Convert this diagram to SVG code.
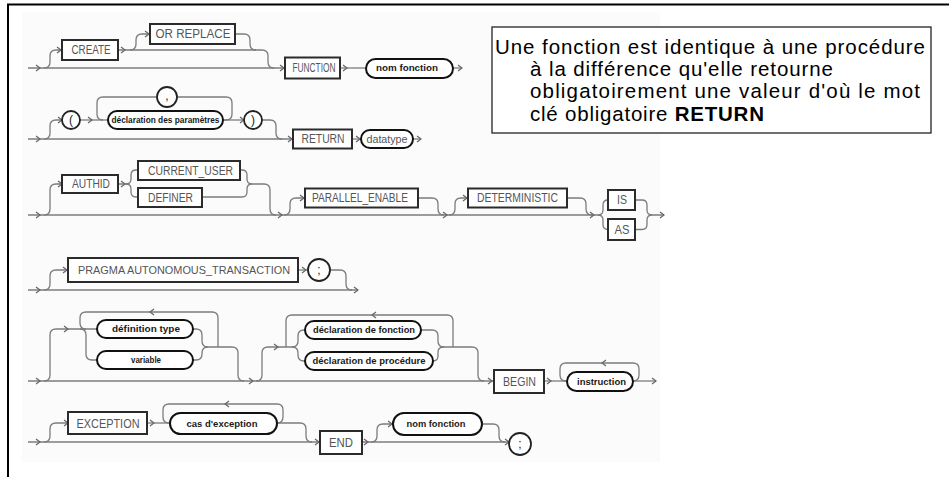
<svg xmlns="http://www.w3.org/2000/svg" xmlns:xlink="http://www.w3.org/1999/xlink" width="949" height="477" viewBox="0 0 949 477">
  <defs>
    <style>
      .ln { fill: none; stroke: #7c7c7c; stroke-width: 1.3; }
      .ch { fill: none; stroke: #666; stroke-width: 1.2; }
      .kw rect { fill: #fff; stroke: #2b2b2b; stroke-width: 2; }
      .kw text { font-family: "Liberation Sans", Arial, sans-serif; font-size: 12px; fill: #555; text-anchor: middle; }
      .nt rect { fill: #fff; stroke: #111; stroke-width: 2; }
      .nt text { font-family: "Liberation Sans", Arial, sans-serif; font-size: 8.5px; font-weight: bold; fill: #1a1a1a; text-anchor: middle; }
      .nt text.lt { font-weight: normal; font-size: 11px; fill: #555; }
      .sym circle { fill: #fff; stroke: #222; stroke-width: 1.8; }
      .sym text { font-family: "Liberation Sans", Arial, sans-serif; font-size: 12px; fill: #222; text-anchor: middle; }
      .note text { font-family: "Liberation Sans", Arial, sans-serif; font-size: 20.5px; fill: #000; }
    </style>
    <path id="chr" d="M-4,-3 L0,0 L-4,3"/>
    <path id="chl" d="M4,-3 L0,0 L4,3"/>
  </defs>

  <rect width="949" height="477" fill="#fff"/>
  <rect x="22" y="12" width="638" height="450" fill="#fbfbfb"/>
  <!-- page frame -->
  <path d="M8,477 V4.5 H949" fill="none" stroke="#000" stroke-width="2"/>

  <g id="connectors">
    <!-- CREATE [OR REPLACE] FUNCTION nom -->
    <path class="ln" d="M28,68 H285"/>
    <path class="ln" d="M44,68 Q50,68 50,62 V56 Q50,50 56,50 H62"/>
    <path class="ln" d="M118,50 H262 Q268,50 268,56 V62 Q268,68 274,68"/>
    <path class="ln" d="M130,50 Q136,50 136,44 V40 Q136,34 142,34 H150"/>
    <path class="ln" d="M235,34 H244 Q250,34 250,40 V44 Q250,50 256,50"/>
    <path class="ln" d="M340,68 H366"/>
    <path class="ln" d="M453,68 H462"/>
    <!-- parameters, RETURN -->
    <path class="ln" d="M28,139 H293"/>
    <path class="ln" d="M44,139 Q50,139 50,133 V126 Q50,120 56,120 H62"/>
    <path class="ln" d="M80,120 H108"/>
    <path class="ln" d="M223,120 H226 Q232,120 232,114 V103 Q232,97 226,97 H103 Q97,97 97,103 V114 Q97,120 103,120"/>
    <path class="ln" d="M223,120 H244"/>
    <path class="ln" d="M262,120 H270 Q276,120 276,126 V133 Q276,139 282,139"/>
    <path class="ln" d="M352,139 H361"/>
    <path class="ln" d="M413,139 H421"/>
    <!-- AUTHID / PARALLEL_ENABLE / DETERMINISTIC / IS|AS -->
    <path class="ln" d="M28,215 H598"/>
    <path class="ln" d="M44,215 Q50,215 50,209 V190 Q50,184 56,184 H62"/>
    <path class="ln" d="M118,184 H126 Q131,184 131,179 V175 Q131,170 136,170 H138"/>
    <path class="ln" d="M126,184 Q131,184 131,189 V192 Q131,197 136,197 H138"/>
    <path class="ln" d="M240,170 H242 Q247,170 247,175 V179 Q247,184 252,184 H264 Q270,184 270,190 V209 Q270,215 276,215"/>
    <path class="ln" d="M202,197 H242 Q247,197 247,192 V189 Q247,184 252,184"/>
    <path class="ln" d="M284,215 Q290,215 290,209 V204 Q290,198 296,198 H305"/>
    <path class="ln" d="M418,198 H432 Q438,198 438,204 V209 Q438,215 444,215"/>
    <path class="ln" d="M449,215 Q455,215 455,209 V204 Q455,198 461,198 H468"/>
    <path class="ln" d="M567,198 H580 Q586,198 586,204 V209 Q586,215 592,215"/>
    <path class="ln" d="M598,215 Q603,215 603,210 V205 Q603,200 608,200"/>
    <path class="ln" d="M598,215 Q603,215 603,220 V224.5 Q603,229.5 608,229.5"/>
    <path class="ln" d="M635,200 H642 Q647,200 647,205 V210 Q647,215 652,215 H664"/>
    <path class="ln" d="M635,229.5 H642 Q647,229.5 647,224.5 V220 Q647,215 652,215"/>
    <!-- PRAGMA -->
    <path class="ln" d="M28,290 H358"/>
    <path class="ln" d="M44,290 Q50,290 50,284 V276 Q50,270 56,270 H68"/>
    <path class="ln" d="M298,270 H308"/>
    <path class="ln" d="M330,270 H340 Q346,270 346,276 V284 Q346,290 352,290"/>
    <!-- declarations, BEGIN -->
    <path class="ln" d="M28,381 H494"/>
    <path class="ln" d="M44,381 Q50,381 50,375 V335 Q50,329 56,329 H97"/>
    <path class="ln" d="M80,329 Q86,329 86,335 V354 Q86,360 92,360 H97"/>
    <path class="ln" d="M218,347 V318 Q218,312 212,312 H86 Q80,312 80,318 V323 Q80,329 86,329"/>
    <path class="ln" d="M193,329 H196 Q202,329 202,335 V341 Q202,347 208,347 H232 Q238,347 238,353 V375 Q238,381 244,381"/>
    <path class="ln" d="M193,360 H196 Q202,360 202,354 V353 Q202,347 208,347"/>
    <path class="ln" d="M256,381 Q262,381 262,375 V353 Q262,347 268,347 H292"/>
    <path class="ln" d="M292,347 Q298,347 298,341 V336 Q298,330 304,330 H305"/>
    <path class="ln" d="M292,347 Q298,347 298,353 V355 Q298,361 304,361 H305"/>
    <path class="ln" d="M453,347 V321 Q453,315 447,315 H292 Q286,315 286,321 V347"/>
    <path class="ln" d="M421,330 H432 Q438,330 438,336 V341 Q438,347 444,347 H472 Q478,347 478,353 V375 Q478,381 484,381"/>
    <path class="ln" d="M433,361 Q438,361 438,356 V352 Q438,347 444,347"/>
    <path class="ln" d="M544,381 H567"/>
    <path class="ln" d="M633,381 Q639,381 639,375 V369 Q639,363 633,363 H566 Q560,363 560,369 V375 Q560,381 566,381"/>
    <path class="ln" d="M633,381 H656"/>
    <!-- EXCEPTION, END -->
    <path class="ln" d="M28,442 H320"/>
    <path class="ln" d="M44,442 Q50,442 50,436 V429 Q50,423 56,423 H68"/>
    <path class="ln" d="M147,423 H170"/>
    <path class="ln" d="M277,423 Q283,423 283,417 V410 Q283,404 277,404 H169 Q163,404 163,410 V417 Q163,423 169,423"/>
    <path class="ln" d="M277,423 H300 Q306,423 306,429 V436 Q306,442 312,442"/>
    <path class="ln" d="M362,442 H509"/>
    <path class="ln" d="M371,442 Q377,442 377,436 V430 Q377,424 383,424 H393"/>
    <path class="ln" d="M482,424 H493 Q499,424 499,430 V436 Q499,442 505,442"/>

    <!-- arrowheads -->
    <g class="ch">
      <use xlink:href="#chr" x="40" y="68"/>
      <use xlink:href="#chr" x="61" y="50"/>
      <use xlink:href="#chr" x="125" y="50"/>
      <use xlink:href="#chr" x="149" y="34"/>
      <use xlink:href="#chr" x="284" y="68"/>
      <use xlink:href="#chr" x="347" y="68"/>
      <use xlink:href="#chr" x="462" y="68"/>

      <use xlink:href="#chr" x="40" y="139"/>
      <use xlink:href="#chr" x="62" y="120"/>
      <use xlink:href="#chr" x="92" y="120"/>
      <use xlink:href="#chr" x="244" y="120"/>
      <use xlink:href="#chr" x="292" y="139"/>
      <use xlink:href="#chr" x="360" y="139"/>
      <use xlink:href="#chr" x="421" y="139"/>

      <use xlink:href="#chr" x="40" y="215"/>
      <use xlink:href="#chr" x="62" y="184"/>
      <use xlink:href="#chr" x="125" y="184"/>
      <use xlink:href="#chr" x="282" y="215"/>
      <use xlink:href="#chr" x="304" y="198"/>
      <use xlink:href="#chr" x="447" y="215"/>
      <use xlink:href="#chr" x="467" y="198"/>
      <use xlink:href="#chr" x="594" y="215"/>
      <use xlink:href="#chr" x="664" y="215"/>

      <use xlink:href="#chr" x="40" y="290"/>
      <use xlink:href="#chr" x="67" y="270"/>
      <use xlink:href="#chr" x="306" y="270"/>
      <use xlink:href="#chr" x="358" y="290"/>

      <use xlink:href="#chr" x="40" y="381"/>
      <use xlink:href="#chr" x="68" y="329"/>
      <use xlink:href="#chl" x="150" y="312"/>
      <use xlink:href="#chr" x="253" y="381"/>
      <use xlink:href="#chr" x="278" y="347"/>
      <use xlink:href="#chl" x="372" y="315"/>
      <use xlink:href="#chr" x="492" y="381"/>
      <use xlink:href="#chr" x="551" y="381"/>
      <use xlink:href="#chl" x="602" y="363"/>
      <use xlink:href="#chr" x="656" y="381"/>

      <use xlink:href="#chr" x="40" y="442"/>
      <use xlink:href="#chr" x="68" y="423"/>
      <use xlink:href="#chr" x="154" y="423"/>
      <use xlink:href="#chl" x="225" y="404"/>
      <use xlink:href="#chr" x="319" y="442"/>
      <use xlink:href="#chr" x="368" y="442"/>
      <use xlink:href="#chr" x="392" y="424"/>
      <use xlink:href="#chr" x="509" y="442"/>
    </g>
  </g>

  <!-- keywords -->
  <g id="create" class="kw"><rect x="62" y="40" width="56" height="20"/><text x="91" y="54.3" textLength="39" lengthAdjust="spacingAndGlyphs">CREATE</text></g>
  <g id="or-replace" class="kw"><rect x="150" y="24" width="85" height="20"/><text x="193" y="38.3" textLength="75" lengthAdjust="spacingAndGlyphs">OR REPLACE</text></g>
  <g id="function" class="kw"><rect x="285" y="57.5" width="55" height="21"/><text x="314" y="72.3" textLength="43" lengthAdjust="spacingAndGlyphs">FUNCTION</text></g>
  <g id="nom-fonction-1" class="nt"><rect x="366" y="59" width="87" height="19" rx="9.5"/><text x="407" y="71" textLength="62" lengthAdjust="spacingAndGlyphs">nom fonction</text></g>

  <g id="open-paren" class="sym"><circle cx="71" cy="120" r="9"/><text x="71" y="124">(</text></g>
  <g id="comma" class="sym"><circle cx="167" cy="97" r="10"/><text x="167" y="100">,</text></g>
  <g id="param-decl" class="nt"><rect x="108" y="111" width="115" height="18" rx="9"/><text x="165.5" y="123" textLength="108" lengthAdjust="spacingAndGlyphs">déclaration des paramètres</text></g>
  <g id="close-paren" class="sym"><circle cx="253" cy="120" r="9"/><text x="253" y="124">)</text></g>
  <g id="return" class="kw"><rect x="293" y="129.5" width="59" height="19"/><text x="323" y="143.3" textLength="43" lengthAdjust="spacingAndGlyphs">RETURN</text></g>
  <g id="datatype" class="nt"><rect x="361" y="130" width="52" height="18" rx="9"/><text class="lt" x="387" y="142.5" textLength="41" lengthAdjust="spacingAndGlyphs">datatype</text></g>

  <g id="authid" class="kw"><rect x="62" y="175" width="56" height="18"/><text x="91" y="188.3" textLength="38" lengthAdjust="spacingAndGlyphs">AUTHID</text></g>
  <g id="current-user" class="kw"><rect x="138" y="161" width="102" height="19"/><text x="190.5" y="174.8" textLength="85" lengthAdjust="spacingAndGlyphs">CURRENT_USER</text></g>
  <g id="definer" class="kw"><rect x="138" y="188" width="64" height="19"/><text x="170.5" y="201.8" textLength="45" lengthAdjust="spacingAndGlyphs">DEFINER</text></g>
  <g id="parallel-enable" class="kw"><rect x="305" y="188.5" width="113" height="19"/><text x="360" y="202.3" textLength="96" lengthAdjust="spacingAndGlyphs">PARALLEL_ENABLE</text></g>
  <g id="deterministic" class="kw"><rect x="468" y="188.5" width="99" height="19"/><text x="517.5" y="202.3" textLength="81" lengthAdjust="spacingAndGlyphs">DETERMINISTIC</text></g>
  <g id="is" class="kw"><rect x="608" y="190" width="27" height="20"/><text x="622" y="204.3" textLength="10" lengthAdjust="spacingAndGlyphs">IS</text></g>
  <g id="as" class="kw"><rect x="608" y="219" width="27" height="21"/><text x="622" y="233.8" textLength="15" lengthAdjust="spacingAndGlyphs">AS</text></g>

  <g id="pragma" class="kw"><rect x="68" y="258" width="230" height="24"/><text x="184" y="274.2" textLength="212" lengthAdjust="spacingAndGlyphs" style="font-size:11.5px">PRAGMA AUTONOMOUS_TRANSACTION</text></g>
  <g id="semicolon-1" class="sym"><circle cx="319" cy="270" r="11"/><text x="319" y="274">;</text></g>

  <g id="type-def" class="nt"><rect x="97" y="320" width="96" height="18" rx="9"/><text x="146" y="332" textLength="68" lengthAdjust="spacingAndGlyphs">définition type</text></g>
  <g id="variable" class="nt"><rect x="97" y="351" width="96" height="18" rx="9"/><text x="146" y="363" textLength="30" lengthAdjust="spacingAndGlyphs">variable</text></g>
  <g id="function-decl" class="nt"><rect x="305" y="321" width="116" height="18" rx="9"/><text x="364" y="333" textLength="102" lengthAdjust="spacingAndGlyphs">déclaration de fonction</text></g>
  <g id="procedure-decl" class="nt"><rect x="305" y="352" width="128" height="18" rx="9"/><text x="369" y="364" textLength="113" lengthAdjust="spacingAndGlyphs">déclaration de procédure</text></g>
  <g id="begin" class="kw"><rect x="494" y="370" width="50" height="23"/><text x="519.5" y="386" textLength="33" lengthAdjust="spacingAndGlyphs" style="font-size:13px">BEGIN</text></g>
  <g id="instruction" class="nt"><rect x="567" y="372" width="66" height="19" rx="9.5"/><text x="601.5" y="384.5" textLength="49" lengthAdjust="spacingAndGlyphs">instruction</text></g>

  <g id="exception" class="kw"><rect x="68" y="412" width="79" height="22"/><text x="108" y="428" textLength="63" lengthAdjust="spacingAndGlyphs" style="font-size:13px">EXCEPTION</text></g>
  <g id="exception-case" class="nt"><rect x="170" y="413" width="107" height="21" rx="10.5"/><text x="222" y="426.5" textLength="71" lengthAdjust="spacingAndGlyphs">cas d'exception</text></g>
  <g id="end" class="kw"><rect x="320" y="431" width="42" height="23"/><text x="341" y="447" textLength="24" lengthAdjust="spacingAndGlyphs" style="font-size:13px">END</text></g>
  <g id="nom-fonction-2" class="nt"><rect x="393" y="413" width="89" height="22" rx="11"/><text x="436" y="427" textLength="59" lengthAdjust="spacingAndGlyphs">nom fonction</text></g>
  <g id="semicolon-2" class="sym"><circle cx="520" cy="444" r="11"/><text x="520" y="448">;</text></g>

  <!-- explanatory note -->
  <g id="note" class="note">
    <rect x="492" y="27" width="439" height="106" fill="#fff" stroke="#222" stroke-width="1.3"/>
    <text x="495" y="53.5" textLength="430">Une fonction est identique à une procédure</text>
    <text x="530" y="76" textLength="303">à la différence qu'elle retourne</text>
    <text x="530" y="98" textLength="390">obligatoirement une valeur d'où le mot</text>
    <text x="530" y="120.5" textLength="234">clé obligatoire <tspan font-weight="bold">RETURN</tspan></text>
  </g>
</svg>
